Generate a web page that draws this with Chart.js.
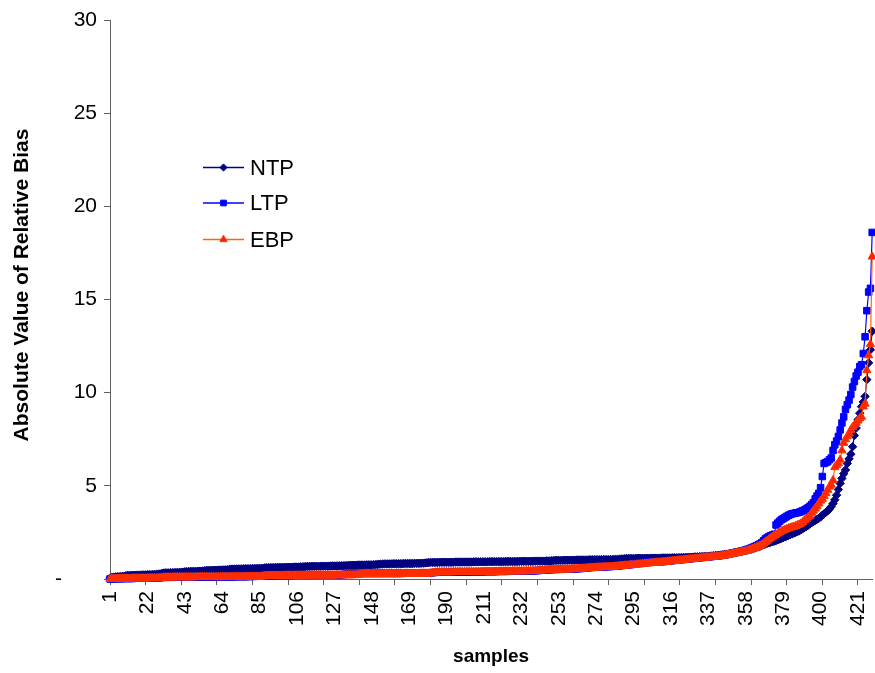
<!DOCTYPE html>
<html>
<head>
<meta charset="utf-8">
<script src="https://cdn.jsdelivr.net/npm/chart.js@4/dist/chart.umd.min.js"></script>
<style>
  html, body { margin: 0; padding: 0; background: #ffffff; overflow: hidden; }
  #wrap { width: 875px; height: 673px; overflow: hidden; }
</style>
</head>
<body>
<div id="wrap"><canvas id="c" width="878" height="673"></canvas></div>
<script>
// Absolute value of relative bias per sample, each series sorted ascending
const NTP = [
  0.05,0.08,0.1,0.11,0.12,0.12,0.13,0.14,0.15,0.18,0.19,0.19,0.2,0.2,0.2,0.21,0.21,0.21,0.22,0.22,
  0.22,0.23,0.23,0.23,0.24,0.24,0.25,0.26,0.27,0.3,0.32,0.33,0.33,0.33,0.34,0.34,0.34,0.35,0.35,0.35,
  0.36,0.37,0.39,0.39,0.4,0.4,0.4,0.41,0.41,0.41,0.42,0.42,0.43,0.44,0.46,0.46,0.46,0.47,0.47,0.47,
  0.47,0.48,0.48,0.48,0.49,0.49,0.5,0.51,0.53,0.53,0.53,0.54,0.54,0.54,0.54,0.55,0.55,0.55,0.55,0.55,
  0.56,0.56,0.56,0.57,0.57,0.57,0.58,0.6,0.6,0.61,0.61,0.61,0.61,0.62,0.62,0.62,0.62,0.62,0.63,0.63,
  0.63,0.63,0.63,0.64,0.64,0.64,0.64,0.65,0.65,0.66,0.67,0.67,0.67,0.68,0.68,0.68,0.68,0.68,0.68,0.69,
  0.69,0.69,0.69,0.69,0.7,0.7,0.7,0.7,0.7,0.71,0.71,0.71,0.72,0.72,0.73,0.74,0.74,0.74,0.74,0.75,
  0.75,0.75,0.75,0.75,0.76,0.76,0.76,0.76,0.77,0.77,0.78,0.79,0.8,0.8,0.81,0.81,0.81,0.81,0.81,0.82,
  0.82,0.82,0.82,0.82,0.82,0.83,0.83,0.83,0.83,0.83,0.83,0.84,0.84,0.84,0.84,0.85,0.85,0.86,0.87,0.88,
  0.89,0.89,0.89,0.89,0.89,0.9,0.9,0.9,0.9,0.9,0.9,0.9,0.9,0.9,0.91,0.91,0.91,0.91,0.91,0.91,
  0.91,0.91,0.91,0.91,0.92,0.92,0.92,0.92,0.92,0.92,0.92,0.92,0.92,0.93,0.93,0.93,0.93,0.93,0.93,0.93,
  0.93,0.93,0.94,0.94,0.94,0.94,0.94,0.94,0.94,0.94,0.95,0.95,0.95,0.95,0.95,0.95,0.95,0.95,0.96,0.96,
  0.96,0.96,0.96,0.96,0.96,0.97,0.97,0.97,0.98,0.99,1,1,1,1,1,1.01,1.01,1.01,1.01,1.01,
  1.01,1.01,1.02,1.02,1.02,1.02,1.02,1.02,1.02,1.03,1.03,1.03,1.03,1.03,1.03,1.03,1.04,1.04,1.04,1.04,
  1.04,1.04,1.04,1.05,1.05,1.05,1.06,1.07,1.08,1.09,1.1,1.1,1.1,1.1,1.1,1.1,1.11,1.11,1.11,1.11,
  1.11,1.11,1.11,1.12,1.12,1.12,1.12,1.12,1.12,1.12,1.13,1.13,1.13,1.13,1.13,1.13,1.14,1.14,1.14,1.14,
  1.14,1.15,1.15,1.15,1.16,1.16,1.17,1.17,1.18,1.18,1.19,1.19,1.2,1.2,1.21,1.21,1.22,1.23,1.24,1.25,
  1.26,1.27,1.28,1.29,1.3,1.31,1.32,1.33,1.35,1.37,1.39,1.41,1.43,1.45,1.47,1.49,1.51,1.53,1.55,1.57,
  1.6,1.63,1.66,1.69,1.72,1.76,1.8,1.84,1.88,1.91,1.94,1.97,2,2.03,2.06,2.1,2.14,2.18,2.22,2.26,
  2.3,2.34,2.38,2.42,2.46,2.5,2.54,2.58,2.64,2.7,2.76,2.82,2.88,2.95,3.02,3.08,3.14,3.2,3.26,3.33,
  3.42,3.5,3.58,3.66,3.76,3.88,4.05,4.25,4.5,4.8,5.13,5.4,5.65,5.85,6.2,6.45,6.7,7.1,7.7,8.1,
  8.55,8.9,9.25,9.5,9.8,10.7,11.6,12.3,13.3
];

const LTP = [
  0,0.01,0.01,0.01,0.02,0.02,0.02,0.02,0.03,0.03,0.03,0.03,0.03,0.03,0.04,0.04,0.04,0.04,0.04,0.04,
  0.05,0.05,0.05,0.05,0.05,0.06,0.06,0.06,0.07,0.08,0.09,0.09,0.09,0.09,0.09,0.09,0.1,0.1,0.1,0.1,
  0.1,0.1,0.1,0.1,0.1,0.1,0.1,0.1,0.11,0.11,0.11,0.11,0.11,0.11,0.11,0.11,0.11,0.11,0.12,0.12,
  0.12,0.12,0.12,0.12,0.12,0.12,0.12,0.12,0.12,0.12,0.12,0.13,0.13,0.13,0.13,0.13,0.13,0.13,0.14,0.14,
  0.14,0.14,0.15,0.15,0.16,0.17,0.18,0.18,0.18,0.18,0.18,0.18,0.18,0.19,0.19,0.19,0.19,0.19,0.19,0.19,
  0.19,0.19,0.19,0.2,0.2,0.2,0.2,0.2,0.2,0.2,0.2,0.2,0.2,0.2,0.2,0.21,0.21,0.21,0.21,0.21,
  0.21,0.21,0.21,0.21,0.22,0.22,0.22,0.22,0.22,0.23,0.23,0.24,0.25,0.27,0.29,0.3,0.3,0.3,0.3,0.3,
  0.3,0.3,0.3,0.3,0.3,0.3,0.3,0.3,0.3,0.3,0.3,0.3,0.3,0.3,0.3,0.3,0.3,0.3,0.3,0.3,
  0.3,0.3,0.3,0.3,0.3,0.31,0.31,0.31,0.31,0.31,0.31,0.31,0.31,0.31,0.32,0.32,0.32,0.32,0.32,0.32,
  0.33,0.34,0.35,0.36,0.37,0.37,0.37,0.37,0.37,0.37,0.37,0.38,0.38,0.38,0.38,0.38,0.38,0.38,0.38,0.38,
  0.38,0.38,0.39,0.39,0.39,0.39,0.39,0.39,0.39,0.39,0.39,0.4,0.4,0.4,0.4,0.4,0.4,0.4,0.41,0.41,
  0.41,0.41,0.41,0.41,0.42,0.42,0.42,0.42,0.42,0.42,0.43,0.43,0.43,0.43,0.43,0.44,0.44,0.44,0.44,0.45,
  0.45,0.46,0.47,0.48,0.49,0.5,0.5,0.5,0.51,0.51,0.51,0.52,0.52,0.52,0.52,0.53,0.53,0.53,0.54,0.54,
  0.54,0.55,0.55,0.56,0.56,0.57,0.58,0.59,0.6,0.61,0.62,0.62,0.63,0.63,0.64,0.64,0.65,0.65,0.66,0.66,
  0.67,0.67,0.68,0.68,0.69,0.7,0.71,0.72,0.73,0.74,0.75,0.76,0.77,0.78,0.8,0.82,0.84,0.86,0.87,0.88,
  0.88,0.89,0.89,0.9,0.9,0.91,0.91,0.92,0.92,0.93,0.93,0.94,0.95,0.96,0.97,0.98,0.99,1,1.01,1.02,
  1.03,1.04,1.05,1.06,1.07,1.08,1.09,1.1,1.11,1.12,1.13,1.14,1.15,1.16,1.17,1.18,1.19,1.2,1.21,1.22,
  1.23,1.24,1.25,1.26,1.28,1.3,1.32,1.34,1.36,1.38,1.4,1.42,1.44,1.46,1.48,1.5,1.53,1.56,1.59,1.62,
  1.66,1.7,1.74,1.78,1.83,1.88,1.95,2.05,2.15,2.22,2.28,2.32,2.36,2.4,2.9,3,3.1,3.18,3.24,3.3,
  3.36,3.42,3.46,3.5,3.52,3.54,3.56,3.58,3.62,3.66,3.7,3.76,3.82,3.9,4,4.1,4.3,4.45,4.6,4.9,
  5.5,6.2,6.25,6.3,6.4,6.5,6.9,7.2,7.4,7.65,8,8.37,8.7,9.1,9.35,9.6,9.9,10.3,10.6,10.9,
  11.1,11.4,11.5,12.1,13,14.4,15.4,15.6,18.6
];

const EBP = [
  0,0,0.01,0.01,0.01,0.01,0.02,0.02,0.02,0.02,0.02,0.02,0.02,0.03,0.03,0.03,0.03,0.03,0.03,0.03,
  0.03,0.03,0.04,0.04,0.04,0.04,0.04,0.04,0.05,0.06,0.08,0.08,0.08,0.08,0.08,0.08,0.09,0.09,0.09,0.09,
  0.09,0.09,0.09,0.09,0.09,0.09,0.09,0.09,0.1,0.1,0.1,0.1,0.1,0.1,0.1,0.1,0.1,0.1,0.1,0.1,
  0.1,0.1,0.1,0.11,0.11,0.11,0.11,0.11,0.11,0.11,0.11,0.11,0.11,0.11,0.11,0.11,0.12,0.12,0.12,0.12,
  0.12,0.12,0.12,0.12,0.12,0.13,0.14,0.16,0.17,0.17,0.17,0.17,0.17,0.17,0.17,0.17,0.17,0.17,0.18,0.18,
  0.18,0.18,0.18,0.18,0.18,0.18,0.18,0.18,0.18,0.18,0.18,0.18,0.19,0.19,0.19,0.19,0.19,0.19,0.19,0.19,
  0.19,0.19,0.19,0.19,0.19,0.19,0.19,0.2,0.2,0.2,0.2,0.2,0.2,0.2,0.2,0.2,0.2,0.2,0.21,0.22,
  0.24,0.25,0.26,0.26,0.26,0.26,0.26,0.26,0.26,0.26,0.26,0.27,0.27,0.27,0.27,0.27,0.27,0.27,0.27,0.27,
  0.27,0.27,0.27,0.28,0.28,0.28,0.28,0.28,0.28,0.28,0.28,0.28,0.28,0.28,0.29,0.29,0.29,0.29,0.29,0.29,
  0.3,0.31,0.33,0.35,0.36,0.36,0.36,0.36,0.36,0.36,0.36,0.36,0.36,0.37,0.37,0.37,0.37,0.37,0.37,0.37,
  0.37,0.37,0.37,0.37,0.37,0.37,0.37,0.38,0.38,0.38,0.38,0.38,0.38,0.38,0.38,0.38,0.39,0.39,0.39,0.4,
  0.4,0.4,0.4,0.4,0.4,0.4,0.41,0.41,0.41,0.41,0.41,0.41,0.41,0.41,0.42,0.42,0.42,0.42,0.42,0.43,
  0.43,0.44,0.45,0.46,0.47,0.48,0.48,0.49,0.49,0.49,0.5,0.5,0.5,0.5,0.51,0.51,0.51,0.51,0.52,0.52,
  0.52,0.53,0.53,0.54,0.54,0.55,0.56,0.57,0.58,0.59,0.6,0.6,0.61,0.61,0.62,0.62,0.63,0.63,0.64,0.64,
  0.64,0.65,0.65,0.66,0.67,0.68,0.69,0.7,0.71,0.72,0.72,0.73,0.74,0.75,0.75,0.76,0.77,0.78,0.79,0.8,
  0.81,0.82,0.83,0.84,0.85,0.86,0.87,0.88,0.88,0.89,0.9,0.91,0.92,0.93,0.94,0.95,0.96,0.97,0.98,0.99,
  1,1.01,1.02,1.03,1.04,1.05,1.06,1.07,1.08,1.09,1.1,1.11,1.12,1.13,1.14,1.15,1.16,1.17,1.18,1.19,
  1.2,1.21,1.22,1.23,1.24,1.26,1.28,1.3,1.32,1.34,1.36,1.38,1.4,1.42,1.44,1.46,1.48,1.5,1.53,1.56,
  1.59,1.62,1.66,1.7,1.74,1.78,1.84,1.9,1.98,2.05,2.12,2.2,2.26,2.32,2.38,2.44,2.5,2.55,2.6,2.64,
  2.68,2.72,2.75,2.78,2.8,2.84,2.88,2.92,2.97,3.05,3.15,3.22,3.3,3.38,3.54,3.66,3.78,3.9,4.05,4.2,
  4.3,4.45,4.6,4.78,4.96,5.05,5.3,6,6.1,6.2,6.4,6.9,7.3,7.5,7.65,7.8,8,8.15,8.25,8.37,
  8.5,8.62,8.7,9.25,9.4,11.2,12,12.6,17.3
];

// Sample numbers printed under the horizontal axis
const X_TICK_LABELS = [1, 22, 43, 64, 85, 106, 127, 148, 169, 190, 211, 232, 253, 274, 295, 316, 337, 358, 379, 400, 421];
// Values marked on the vertical axis
const Y_TICKS = [0, 5, 10, 15, 20, 25, 30];
const SERIES_NAMES = ['NTP', 'LTP', 'EBP'];

const samples = NTP.map((_, i) => String(i + 1));
const labelSet = new Set(X_TICK_LABELS.map(String));

const FONT = '"Liberation Sans", Arial, sans-serif';

const styles = {
  NTP: { line: '#000080', fill: '#000080', edge: '#000080', shape: 'rectRot', r: 4.2 },
  LTP: { line: '#0000FF', fill: '#0000FF', edge: '#0000FF', shape: 'rect', r: 4.6 },
  EBP: { line: '#FF6600', fill: '#FF2200', edge: '#FF3300', shape: 'triangle', r: 4.8 }
};

function makeSet(name, values, order) {
  const s = styles[name];
  return {
    label: name,
    data: values,
    order: order,
    borderColor: s.line,
    borderWidth: 1.2,
    backgroundColor: s.fill,
    pointStyle: s.shape,
    pointRadius: s.r,
    pointBackgroundColor: s.fill,
    pointBorderColor: s.edge,
    pointBorderWidth: 1,
    tension: 0,
    fill: false,
    clip: { left: 5, top: 5, right: 5, bottom: 5 }
  };
}

// Legend block and y-axis title drawn inside/beside the plot
const decorations = {
  id: 'decorations',
  afterDraw(chart) {
    const ctx = chart.ctx;
    ctx.save();
    // legend
    const rows = [167.5, 203, 239.5];
    SERIES_NAMES.forEach((name, i) => {
      const s = styles[name];
      const y = rows[i];
      ctx.strokeStyle = s.line;
      ctx.lineWidth = 1.5;
      ctx.beginPath();
      ctx.moveTo(203, y);
      ctx.lineTo(244, y);
      ctx.stroke();
      ctx.fillStyle = s.fill;
      ctx.strokeStyle = s.edge;
      ctx.lineWidth = 1;
      Chart.helpers.drawPoint(ctx, { pointStyle: s.shape, radius: s.r - 0.6, borderWidth: 1 }, 223.5, y);
      ctx.fillStyle = '#000000';
      ctx.font = '22px ' + FONT;
      ctx.textAlign = 'left';
      ctx.textBaseline = 'middle';
      ctx.fillText(name, 250, y + 1);
    });
    // y-axis title
    ctx.translate(22, 285);
    ctx.rotate(-Math.PI / 2);
    ctx.font = 'bold 21px ' + FONT;
    ctx.textAlign = 'center';
    ctx.textBaseline = 'middle';
    ctx.fillStyle = '#000000';
    ctx.fillText('Absolute Value of Relative Bias', 0, 0);
    ctx.restore();
  }
};

new Chart(document.getElementById('c'), {
  type: 'line',
  data: {
    labels: samples,
    datasets: [
      makeSet('NTP', NTP, 3),
      makeSet('LTP', LTP, 2),
      makeSet('EBP', EBP, 1)
    ]
  },
  options: {
    responsive: false,
    animation: false,
    devicePixelRatio: 1,
    layout: { padding: { top: 20, right: 1, left: 0, bottom: 0 } },
    plugins: {
      legend: { display: false },
      tooltip: { enabled: false }
    },
    scales: {
      x: {
        type: 'category',
        offset: false,
        afterFit(scale) {
          scale.height = 94;
          scale.paddingLeft = 0;
          scale.paddingRight = 0;
        },
        border: { display: true, color: '#606060', width: 1 },
        grid: {
          display: true,
          drawOnChartArea: false,
          drawTicks: true,
          tickLength: 6,
          tickColor: (ctx) => (ctx.index % 20 === 0 ? '#606060' : 'rgba(0,0,0,0)')
        },
        ticks: {
          autoSkip: false,
          maxRotation: 90,
          minRotation: 90,
          padding: 6,
          color: '#000000',
          font: { family: FONT, size: 21 },
          callback(value, index) {
            const lab = samples[index];
            return labelSet.has(lab) ? lab : '';
          }
        },
        title: {
          display: true,
          text: 'samples',
          color: '#000000',
          font: { family: FONT, size: 19, weight: 'bold' },
          padding: { top: 0, bottom: 5 }
        }
      },
      y: {
        min: 0,
        max: 30,
        afterFit(scale) { scale.width = 110; },
        afterBuildTicks(scale) { scale.ticks = Y_TICKS.map(v => ({ value: v })); },
        border: { display: true, color: '#606060', width: 1 },
        grid: {
          display: true,
          drawOnChartArea: false,
          drawTicks: true,
          tickLength: 6,
          tickColor: '#606060'
        },
        ticks: {
          padding: 7,
          color: '#000000',
          font: { family: FONT, size: 21 },
          callback(value) { return value === 0 ? '-      ' : String(value); }
        }
      }
    }
  },
  plugins: [decorations]
});
</script>
</body>
</html>
